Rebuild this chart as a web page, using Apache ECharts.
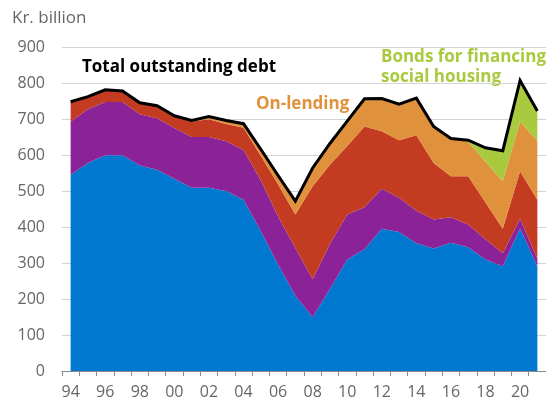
<!DOCTYPE html>
<html>
<head>
<meta charset="utf-8">
<style>
  html, body { margin: 0; padding: 0; background: #fff; }
  #chart { width: 546px; height: 400px; }
</style>
<script src="https://cdn.jsdelivr.net/npm/echarts@6/dist/echarts.min.js"></script>
</head>
<body>
<div id="chart"></div>
<script>
// Central government debt by financing purpose, kr. billion, 1994–2021
const years = ['94','95','96','97','98','99','00','01','02','03','04','05','06','07',
               '08','09','10','11','12','13','14','15','16','17','18','19','20','21'];

const otherFinancing   = [545,578,599,599,571,559,534,509,509,500,476,388,295,209,
                          149,228,310,338,395,386,355,340,356,344,310,291,396,290];
const governmentFunds  = [148,149,148,148,142,143,141,141,141,138,138,142,134,133,
                          106,125,125,117,111,95,90,81,71,63,56,36,27,22];
const governmentAcct   = [55,35,34,31,32,35,34,43,49,48,62,68,90,93,
                          258,220,190,224,160,160,210,157,114,134,102,68,132,164];
const onLending        = [0,0,0,0,0,0,0,3,8,10,12,18,24,37,
                          51,59,69,77,91,100,103,101,105,96,113,132,138,162];
const socialHousing    = [0,0,0,0,0,0,0,0,0,0,0,0,0,0,
                          0,0,0,0,0,0,0,0,0,4,39,85,114,82];
const totalDebt        = [748,762,781,778,745,737,709,696,707,696,687,616,543,472,
                          564,632,694,756,757,741,758,679,646,641,620,612,807,722];

const yTicks = { min: 0, max: 900, interval: 100 };

const FONT = '"Open Sans", "Noto Sans", sans-serif';

function areaSeries(name, data, color) {
  return {
    name: name,
    type: 'line',
    stack: 'debt',
    data: data,
    showSymbol: false,
    symbol: 'none',
    lineStyle: { width: 0 },
    areaStyle: { color: color, opacity: 1 },
    itemStyle: { color: color },
    emphasis: { disabled: true },
    silent: true
  };
}

function label(text, x, y, color) {
  return {
    type: 'text',
    x: x, y: y,
    silent: true,
    style: {
      text: text,
      fill: color,
      font: 'bold 17px ' + FONT,
      textVerticalAlign: 'middle'
    }
  };
}

const chart = echarts.init(document.getElementById('chart'), null, { renderer: 'canvas' });

chart.setOption({
  animation: false,
  grid: { left: 62, right: -10, top: 47, bottom: 28, containLabel: false },
  xAxis: {
    type: 'category',
    data: years,
    boundaryGap: true,
    axisLine: { lineStyle: { color: '#8a8a8a', width: 1 } },
    axisTick: { show: true, interval: 0, length: 5, lineStyle: { color: '#8a8a8a' } },
    axisLabel: {
      interval: 1,
      margin: 13,
      color: '#666',
      fontSize: 16,
      fontFamily: FONT
    },
    splitLine: { show: false }
  },
  yAxis: {
    type: 'value',
    min: yTicks.min,
    max: yTicks.max,
    interval: yTicks.interval,
    axisLine: { show: false },
    axisTick: { show: false },
    axisLabel: { margin: 17, color: '#666', fontSize: 16, fontFamily: FONT },
    splitLine: { lineStyle: { color: '#d4d4d4', width: 1 } }
  },
  series: [
    areaSeries('Other financing', otherFinancing, '#0078d0'),
    areaSeries('Government funds', governmentFunds, '#8c2297'),
    areaSeries("Government's account", governmentAcct, '#c33c21'),
    areaSeries('On-lending', onLending, '#e0913b'),
    areaSeries('Bonds for financing social housing', socialHousing, '#a9ca3f'),
    {
      name: 'Total outstanding debt',
      type: 'line',
      data: totalDebt,
      showSymbol: false,
      symbol: 'none',
      z: 5,
      lineStyle: { color: '#000', width: 3, join: 'miter' },
      emphasis: { disabled: true },
      silent: true
    }
  ],
  graphic: [
    {
      type: 'text', x: 12, y: 18, silent: true,
      style: { text: 'Kr. billion', fill: '#666', font: '17px ' + FONT, textVerticalAlign: 'middle' }
    },
    label('Total outstanding debt', 82, 67, '#000'),
    label('On-lending', 256, 104, '#e0913b'),
    label('Bonds for financing', 381, 57, '#a9ca3f'),
    label('social housing', 381, 77, '#a9ca3f'),
    label('Government funds', 73, 148, '#fff'),
    label("Government's", 329, 184, '#fff'),
    label('account', 425, 205, '#fff'),
    label('Other financing', 93, 271, '#fff')
  ]
});
</script>
</body>
</html>
